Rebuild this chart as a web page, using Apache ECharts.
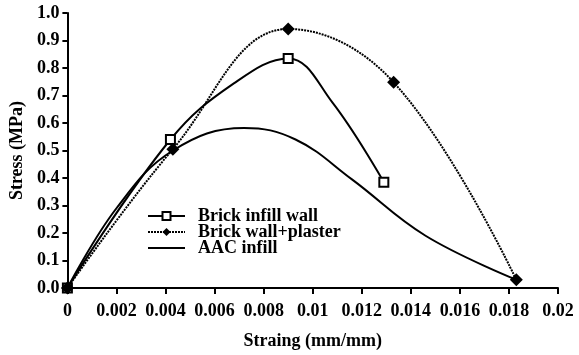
<!DOCTYPE html>
<html>
<head>
<meta charset="utf-8">
<script src="https://cdn.jsdelivr.net/npm/echarts@6/dist/echarts.min.js"></script>
<style>
html, body { margin: 0; padding: 0; background: #fff; }
#chart { width: 579px; height: 355px; }
</style>
</head>
<body>
<div id="chart"></div>
<script>
var brickMarkX = [0, 0.0042, 0.009, 0.0129];
var plasterMarkX = [0, 0.0043, 0.009, 0.0133, 0.0183];

// points along the drawn curves (markers included)
var brickX = [0, 0.0042, 0.0068, 0.009, 0.0108, 0.0129];
var brickY = [0, 0.54, 0.745, 0.835, 0.675, 0.385];
var plasterX = [0, 0.0043, 0.009, 0.0133, 0.0183];
var plasterY = [0, 0.505, 0.942, 0.748, 0.03];
var aacX = [0, 0.002, 0.0043, 0.0072, 0.0093, 0.0116, 0.0146, 0.0183];
var aacY = [0, 0.29, 0.50, 0.582, 0.54, 0.395, 0.19, 0.03];

var seriesNames = ["Brick infill wall", "Brick wall+plaster", "AAC infill"];

function build(xs, ys, marks) {
	var out = [];
	for (var i = 0; i < xs.length; i++) {
		var item = { value: [xs[i], ys[i]] };
		if (!marks || marks.indexOf(xs[i]) < 0) item.symbol = 'none';
		out.push(item);
	}
	return out;
}

var font = "Liberation Serif";
var txt = { fontFamily: font, fontWeight: 'bold', fontSize: 18, color: '#000' };
var myChart = echarts.init(document.getElementById('chart'));
myChart.setOption({
	animation: false,
	backgroundColor: '#fff',
	grid: { left: 62, right: 21, top: 13, bottom: 66 },
	legend: {
		orient: 'vertical',
		left: 142,
		top: 202,
		itemWidth: 37,
		itemHeight: 10,
		itemGap: -2,
		data: [
			seriesNames[0],
			seriesNames[1],
			{ name: seriesNames[2], icon: 'path://M0,0 L37,0 L37,2 L0,2 Z' }
		],
		textStyle: { fontFamily: font, fontWeight: 'bold', fontSize: 18, color: '#000', padding: [0, 0, 0, 8] }
	},
	xAxis: {
		type: 'value',
		min: 0, max: 0.02, interval: 0.002,
		name: 'Straing (mm/mm)',
		nameLocation: 'middle',
		nameGap: 44,
		nameTextStyle: txt,
		splitLine: { show: false },
		axisLine: { show: true, onZero: false, lineStyle: { color: '#000', width: 2 } },
		axisTick: { show: true, inside: false, length: 6, lineStyle: { color: '#000', width: 2 } },
		axisLabel: {
			fontFamily: font, fontWeight: 'bold', fontSize: 18, color: '#000', margin: 14,
			formatter: function (v) { return String(parseFloat(v.toFixed(3))); }
		}
	},
	yAxis: {
		type: 'value',
		min: 0, max: 1, interval: 0.1,
		name: 'Stress (MPa)',
		nameLocation: 'middle',
		nameGap: 40,
		nameTextStyle: txt,
		splitLine: { show: false },
		axisLine: { show: true, onZero: false, lineStyle: { color: '#000', width: 2 } },
		axisTick: { show: true, inside: false, length: 5, lineStyle: { color: '#000', width: 2 } },
		axisLabel: {
			fontFamily: font, fontWeight: 'bold', fontSize: 18, color: '#000', margin: 8,
			formatter: function (v) { return v.toFixed(1); }
		}
	},
	series: [
		{
			name: seriesNames[0],
			type: 'line',
			smooth: 0.4,
			showAllSymbol: true,
			data: build(brickX, brickY, brickMarkX),
			symbol: 'rect',
			symbolSize: 9,
			itemStyle: { color: '#fff', borderColor: '#000', borderWidth: 2 },
			lineStyle: { color: '#000', width: 2 },
			z: 3
		},
		{
			name: seriesNames[1],
			type: 'line',
			smooth: 0.4,
			showAllSymbol: true,
			data: build(plasterX, plasterY, plasterMarkX),
			symbol: 'diamond',
			symbolSize: 13,
			itemStyle: { color: '#000', borderColor: '#000', borderWidth: 0 },
			lineStyle: { color: '#000', width: 2, type: [2, 1] },
			z: 4
		},
		{
			name: seriesNames[2],
			type: 'line',
			smooth: 0.4,
			data: build(aacX, aacY, null),
			symbol: 'none',
			itemStyle: { color: '#000' },
			lineStyle: { color: '#000', width: 2 },
			z: 2
		}
	]
});
</script>
</body>
</html>
